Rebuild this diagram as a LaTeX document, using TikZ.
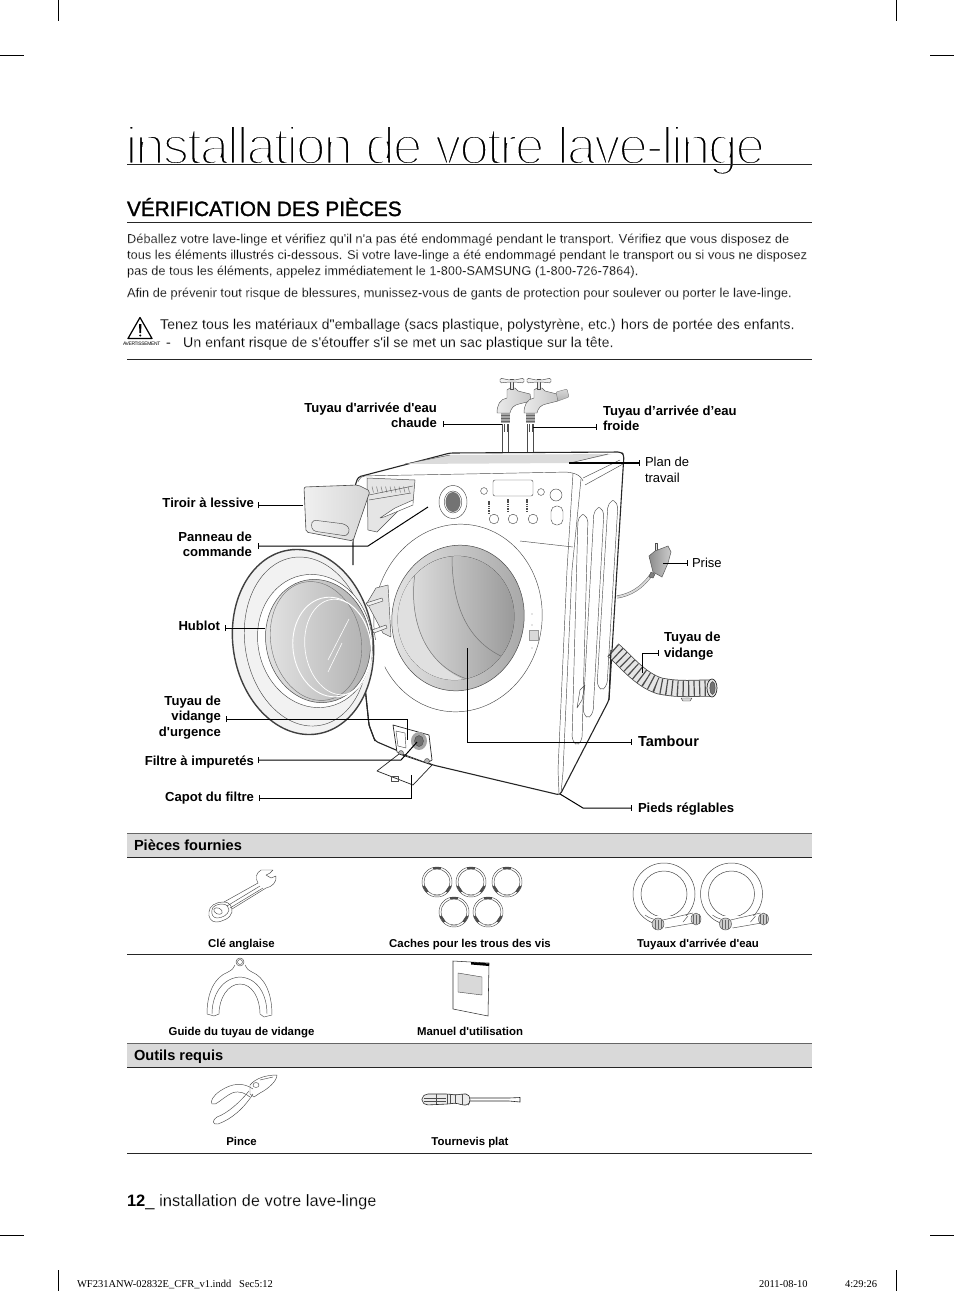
\documentclass[tikz,border=0pt]{standalone}
\usepackage{fontspec}
\usetikzlibrary{arrows.meta,calc}
\newfontfamily\lib{Liberation Sans}
\newfontfamily\libserif{Liberation Serif}
\newcommand{\thintext}[2]{\special{pdf:code 2 Tr 1 1 1 RG #1 w}#2\special{pdf:code 0 Tr 0 0 0 RG 0.4 w}}
\newcommand{\thicktext}[2]{\special{pdf:code 2 Tr 0 0 0 RG #1 w}#2\special{pdf:code 0 Tr 0 0 0 RG 0.4 w}}
\newcommand{\fs}[1]{\fontsize{#1}{#1}\selectfont}
\tikzset{
  every node/.style={inner sep=0pt,outer sep=0pt,font=\lib},
  bodytxt/.style={anchor=base west,font=\lib\fs{12.83}},
  warntxt/.style={anchor=base west,font=\lib\fs{14.25}},
  lab/.style={font=\lib\bfseries\fontsize{13.1}{15.5}\selectfont,align=#1},
  lab/.default=left,
  reg/.style={font=\lib\fontsize{13}{16}\selectfont,align=left},
  captxt/.style={anchor=base,font=\lib\bfseries\fs{11.4}},
  headtxt/.style={anchor=base west,font=\lib\bfseries\fs{14.6}},
  ln/.style={draw=black!85,line width=0.7pt,line join=round},
  fine/.style={draw=black!70,line width=0.45pt,line join=round},
  leader/.style={draw=black,line width=1pt,line join=miter,{Bar[width=6pt,length=0.9pt]}-},
  rulel/.style={draw=black!85,line width=1pt},
  cropm/.style={draw=black,line width=0.5pt},
}
\begin{document}
\begin{tikzpicture}[x=1pt,y=-1pt]
\useasboundingbox (0,0) rectangle (954,1291);
\fill[white] (0,0) rectangle (954,1291);
% crop marks
\foreach \a/\b/\c/\d in {58/0/58/21,896/0/896/21,0/55/24/55,930/55/954/55,0/1235/24/1235,930/1235/954/1235,58/1270/58/1291,896/1270/896/1291}
  \draw[cropm] (\a,\b)--(\c,\d);
% heading block
\node (title) [anchor=base west,font=\lib\fs{53}\addfontfeature{LetterSpace=-3.95}] at (125.5,164) {\thintext{2.7}{installation de votre lave-linge}};
\draw[rulel,line width=0.8pt] (127,164.5)--(812,164.5);
\node (section) [anchor=base west,font=\lib\fs{20.8}] at (127,216) {\thicktext{0.3}{VÉRIFICATION DES PIÈCES}};
\draw[rulel] (127,222.5)--(812,222.5);
\node (b1) [bodytxt] at (127,243) {\thintext{0.1}{Déballez votre lave-linge et vérifiez qu'il n'a pas été endommagé pendant le transport. Vérifiez que vous disposez de}};
\node (b2) [bodytxt] at (127,259) {\thintext{0.1}{tous les éléments illustrés ci-dessous. Si votre lave-linge a été endommagé pendant le transport ou si vous ne disposez}};
\node (b3) [bodytxt] at (127,275) {\thintext{0.1}{pas de tous les éléments, appelez immédiatement le 1-800-SAMSUNG (1-800-726-7864).}};
\node (b4) [bodytxt] at (127,297) {\thintext{0.1}{Afin de prévenir tout risque de blessures, munissez-vous de gants de protection pour soulever ou porter le lave-linge.}};
% warning
\draw[line width=1.2pt,line join=round,fill=white] (140,317.5)--(128,338.5)--(152,338.5)--cycle;
\fill[black] (139,324)--(141.5,324)--(141,333)--(139.5,333)--cycle;
\fill[black] (140.2,335.5) circle (1.1);
\node (avert) [anchor=base west,font=\lib\fs{4.9}\addfontfeature{LetterSpace=-6}] at (123,345) {AVERTISSEMENT};
\node (w1) [warntxt] at (160,329) {\thintext{0.1}{Tenez tous les matériaux d"emballage (sacs plastique, polystyrène, etc.) hors de portée des enfants.}};
\node (w2) [warntxt] at (166,347) {\thintext{0.1}{-}};
\node (w3) [warntxt] at (183,347) {\thintext{0.1}{Un enfant risque de s'étouffer s'il se met un sac plastique sur la tête.}};
\draw[rulel,line width=0.8pt] (127,359.5)--(812,359.5);

% ---- machine body
\draw[ln,line width=1.1pt,fill=white,rounded corners=3pt] (353,565)--(353,543)--(355,486)--(358,477)--(450,453)--(621,452)--(624,455)--(623,470)--(609,700)--(560,795)--(433,765)--(396,750)--(375,741)--(369,725)--(365,687);
% side
\draw[fine] (581,479)--(572,570)--(563,772)--(561,793);
\draw[fine] (573,473)--(567,570)--(558,770)--(559,793);
\foreach \xa/\ya/\xb/\yb in {583/509/577/747,599/502/588/720,613/495/602/692}{
  \draw[fine,rounded corners=5pt] (\xa-5,\ya+8) to[bend left=30] (\xa+5,\ya+8) -- (\xb+5,\yb-6) to[bend left=40] (\xb-5,\yb-6)--cycle;
}
\draw[fine] (585,685)--(582,700)--(577,708)--(580,690)--cycle;
% top
\fill[black!14] (405,464)--(450,455)--(612,454)--(570,463)--cycle;
\draw[fine] (405,464)--(450,455);
\draw[fine] (570,463)--(608,454);
\draw[fine] (583,478)--(620,460);
\draw[fine] (585,485)--(623,464);
% front panel outline
\draw[fine,rounded corners=5pt] (358,482)--(360,476)--(570,472)--(581,476)--(583,481);
\draw[fine] (520,541)--(573,547);
% panel details
\draw[fine,fill=white] (453,502) ellipse (14 and 16.5);
\fill[black!55] (453,502) ellipse (7.5 and 10);
\draw[fine] (453,502) ellipse (8.8 and 11);
\draw[fine,rounded corners=2pt] (493,480) rectangle (533,496);
\draw[fine] (484,491) circle (3.4);
\draw[fine] (541,492) circle (3.4);
\draw[fine] (556,495) circle (6);
\draw[fine,rounded corners=5.5pt] (551,506) rectangle (563,525);
\foreach \x in {494,513,533} \draw[fine] (\x,519) circle (4.8);
\foreach \x/\y in {489/507,508/505,527/505}
  \draw[black!70,line width=2pt,dash pattern=on 1.5pt off 0.8pt] (\x,\y-6)--(\x,\y+6);
% surround
\draw[fine,fill=white] (458,618) [rotate around={-8:(458,618)}] ellipse (84 and 94);
% gasket
\shade[left color=black!10,right color=black!35,draw=black!70,line width=0.5pt] (458,618) [rotate around={-10:(458,618)}] ellipse (66 and 73);
\fill[white!82!black,draw=black!75,line width=0.5pt] (456,618) [rotate around={-10:(456,618)}] ellipse (58 and 62);
\begin{scope}
  \clip (456,618) [rotate around={-10:(456,618)}] ellipse (58 and 62);
  \shade[left color=black!10,right color=black!40] (396,550) rectangle (516,685);
  \draw[black!55,line width=0.5pt] (452,556) .. controls (452,610) and (470,645) .. (510,660);
  \fill[black!12] (395,550)--(415,550) .. controls (405,610) and (420,665) .. (470,682)--(395,690)--cycle;
  \draw[black!55,line width=0.5pt] (418,558) .. controls (405,610) and (420,665) .. (470,680);
\end{scope}
% drum panel buttons
\fill[black!15] (529,630) rectangle (538,640);
\draw[black!40,line width=0.45pt] (529,630) rectangle (538,640);
\foreach \y in {614,625,648} \fill[black!45] (532,\y) circle (0.7);
% drawer
\fill[black!10,draw=black!70,line width=0.5pt] (367,478)--(415,480)--(413,503)--(400,509)--(377,532)--(368,530)--cycle;
\draw[fine,fill=white] (395,508)--(413,500)--(413,505)--(384,517)--(380,518)--cycle;
\foreach \i in {0,...,8}{ \draw[black!50,line width=0.5pt] ($(372,488)+(\i*4.5,-1.5)$)--+(1.5,6); }
\draw[fine] (369,495)--(413,486);
\draw[fine] (369,500)--(411,493);
\shade[left color=black!6,right color=black!16,draw=black!70,line width=0.6pt,rounded corners=2pt] (304,487)--(358,485)--(370,491)--(353,541)--(306,532)--cycle;
\draw[fine,rounded corners=3pt] (313,520)--(345,524)--(350,529)--(347,536)--(313,531)--(311,525)--cycle;
% hoses and faucets
\foreach \x in {502,527}{
  \fill[white] (\x,424) rectangle (\x+6.5,452);
  \draw[fine] (\x,424)--(\x,452);
  \draw[fine] (\x+6.5,424)--(\x+6.5,452);
  \fill[black!35] (\x-1,412) rectangle (\x+8,423);
  \draw[black!60,line width=0.5pt] (\x-1,415)--(\x+8,415) (\x-1,418)--(\x+8,418) (\x-1,421)--(\x+8,421);
  \draw[fine] (\x+2,424)--(\x+2,432) (\x+5,424)--(\x+5,432);
}
\foreach \x/\xs in {512/503,539/530}{
  \shade[left color=black!8,right color=black!22,draw=black!65,line width=0.45pt] (\x-5,398)--(\x-5,390)--(\x-2,388)--(\x+3,388)--(\x+6,391)--(\x+18,394)--(\x+19,401)--(\x+7,404) .. controls (\x+2,405) and (\x-1,408) .. (\x-2,413)--(\xs-6,413) .. controls (\xs-6,405) and (\xs-3,399) .. (\x-5,398)--cycle;
  \draw[fine,fill=black!10] (\x-1.5,379)--(\x+1.5,379)--(\x+1.5,389)--(\x-1.5,389)--cycle;
  \draw[fine,fill=black!6,rounded corners=1.5pt] (\x-12,378)--(\x-3,380)--(\x+3,380)--(\x+12,378)--(\x+12,383)--(\x+3,382)--(\x-3,382)--(\x-12,383)--cycle;
}
\shade[top color=black!15,bottom color=black!30,draw=black!50,line width=0.4pt,rounded corners=1pt] (556,392)--(567,389)--(569,397)--(558,401)--cycle;
% plug
\draw[black!60,line width=3pt] (651,575) .. controls (642,588) and (630,595) .. (617,597);
\draw[white!85!black,line width=2pt] (651,575) .. controls (642,588) and (630,595) .. (617,597);
\draw[fine,fill=black!12] (655,552)--(655,543)--(657,543)--(657,552);
\shade[left color=black!45,right color=black!20,draw=black!65,line width=0.5pt] (649,556)--(655,551)--(668,546)--(671,552)--(668,563)--(662,577)--(653,572)--cycle;
\draw[fine,fill=black!50] (651,572)--(649,577)--(653,578)--(655,574)--cycle;
% drain hose
\draw[black!75,line width=17pt,line cap=butt] (613,650) .. controls (625,660) and (640,680) .. (660,686) .. controls (680,690) and (695,688) .. (711,688);
\draw[white!90!black,line width=15.5pt] (613,650) .. controls (625,660) and (640,680) .. (660,686) .. controls (680,690) and (695,688) .. (711,688);
\draw[black!70,line width=15.5pt,dash pattern=on 1.2pt off 4.3pt] (613,650) .. controls (625,660) and (640,680) .. (660,686) .. controls (680,690) and (695,688) .. (709,688);
\draw[ln,fill=white!90!black] (712,688) ellipse (5 and 9);
\draw[fine,fill=black!55] (712.5,688) ellipse (2.6 and 6.5);
\draw[fine,fill=black!15] (681,698)--(692,698)--(690,701)--(683,701)--cycle;
\draw[ln,line width=1.1pt] (609,700)--(611,650);
% door
\fill[white] (365,687)--(365,640)--(390,640)--(380,690)--cycle;
\draw[ln,line width=1.1pt] (365,687)--(369,725)--(375,741);
\draw[fine,fill=black!12] (376,588)--(388,585)--(391,637)--(383,633)--(367,603)--cycle;
\draw[fine,fill=black!6] (366,603)--(382,598)--(383,601)--(368,606)--cycle;
\draw[fine,fill=black!6] (372,630)--(386,625)--(387,628)--(374,633)--cycle;
\begin{scope}[rotate around={9:(303,642)}]
\draw[black!75,line width=1.4pt,fill=black!5] (303,642) ellipse (70 and 93);
\draw[fine] (306,642) ellipse (61 and 85);
\end{scope}
\draw[fine,fill=white] (315,641) [rotate around={12:(315,641)}] ellipse (57 and 67);
\shade[left color=black!10,right color=black!32,draw=black!70,line width=0.5pt] (318,641) [rotate around={12:(318,641)}] ellipse (52 and 62);
\draw[black!55,line width=0.4pt] (316,641) [rotate around={12:(316,641)}] ellipse (45 and 60);
\draw[white,line width=0.9pt] (332,647) [rotate around={8:(332,647)}] ellipse (39 and 50);
\draw[white,line width=0.7pt] (338,647) [rotate around={8:(338,647)}] ellipse (33 and 48);
\draw[white,line width=0.6pt] (349,619)--(328,660);
\draw[white,line width=0.6pt] (342,643)--(328,672);
% filter
\draw[ln,fill=white] (393,725)--(429,735)--(432,760)--(427,763)--(397,752)--cycle;
\draw[fine,fill=white] (396,731)--(405,733)--(406,748)--(398,746)--cycle;
\fill[black!35] (419,741) ellipse (8 and 9);
\draw[fine,fill=black!55] (419,741) ellipse (4.5 and 5.5);
\draw[fine,fill=black!30] (401,753) circle (2.5);
\draw[fine,fill=black!30] (427,761) circle (2.5);
\draw[ln,fill=white] (377,771)--(399,754)--(432,765)--(413,785)--cycle;
\draw[fine] (391,776) rectangle (398,781);

% leaders
\coordinate (hotT) at (443,424); \coordinate (hotE) at (502,424);
\coordinate (coldT) at (597,427); \coordinate (coldE) at (533,427);
\coordinate (planT) at (640,463); \coordinate (planE) at (569,463);
\coordinate (tirT) at (258,505); \coordinate (tirE) at (303,505);
\coordinate (panT) at (258,546); \coordinate (panB) at (368,546); \coordinate (panE) at (428,507);
\coordinate (priT) at (688,563); \coordinate (priE) at (663,563);
\coordinate (vidT) at (659,653); \coordinate (vidB) at (642,653); \coordinate (vidE) at (642,673);
\coordinate (hubT) at (225,628); \coordinate (hubE) at (265,628);
\coordinate (urgT) at (226,719); \coordinate (urgB) at (407,719); \coordinate (urgE) at (407,740);
\coordinate (filT) at (258,760); \coordinate (filB) at (401,760); \coordinate (filE) at (417,742);
\coordinate (capT) at (259,798); \coordinate (capB) at (411,798); \coordinate (capE) at (411,775);
\coordinate (tamT) at (632,742); \coordinate (tamB) at (467,742); \coordinate (tamE) at (467,648);
\coordinate (piedT) at (632,808); \coordinate (piedB) at (583,808); \coordinate (piedE) at (560,794);
\draw[leader] (hotT)--(hotE);
\draw[leader] (coldT)--(coldE);
\draw[leader,line width=1.3pt] (planT)--(planE);
\draw[leader] (tirT)--(tirE);
\draw[leader] (panT)--(panB)--(panE);
\draw[leader] (priT)--(priE);
\draw[leader] (vidT)--(vidB)--(vidE);
\draw[leader] (hubT)--(hubE);
\draw[leader] (urgT)--(urgB)--(urgE);
\draw[leader] (filT)--(filB)--(filE);
\draw[leader] (capT)--(capB)--(capE);
\draw[leader] (tamT)--(tamB)--(tamE);
\draw[leader] (piedT)--(piedB)--(piedE);
% labels
\node (lhot) [lab=right,anchor=east] at (437,415.5) {Tuyau d'arrivée d'eau\\chaude};
\node (lcold) [lab=left,anchor=west] at (603,418.5) {Tuyau d’arrivée d’eau\\froide};
\node (lplan) [reg,anchor=west] at (645,470) {Plan de\\travail};
\node (ltir) [lab=right,anchor=base east] at (254,507) {Tiroir à lessive};
\node (lpan) [lab=right,anchor=east] at (252,544.5) {Panneau de\\commande};
\node (lpri) [reg,anchor=base west] at (692,567) {Prise};
\node (lvid) [lab=left,anchor=west] at (664,646) {Tuyau de\\vidange};
\node (lhub) [lab=right,anchor=base east] at (220,630) {Hublot};
\node (lurg) [lab=right,anchor=east] at (221,717.5) {Tuyau de\\vidange\\d'urgence};
\node (lfil) [lab=right,anchor=base east] at (254,765) {Filtre à impuretés};
\node (lcap) [lab=right,anchor=base east] at (254,801) {Capot du filtre};
\node (ltam) [anchor=base west,font=\lib\bfseries\fs{14.5}] at (638,746) {Tambour};
\node (lpie) [lab=left,anchor=base west] at (638,812) {Pieds réglables};

% table
\fill[black!15] (127,833.5) rectangle (812,857);
\draw[draw=black!60,line width=0.6pt] (127,833.5)--(812,833.5);
\draw[rulel] (127,857.5)--(812,857.5);
\node (hp) [headtxt] at (134,850) {Pièces fournies};
\draw[rulel] (127,954.5)--(812,954.5);
\fill[black!15] (127,1043.5) rectangle (812,1067);
\draw[draw=black!60,line width=0.6pt] (127,1043.5)--(812,1043.5);
\draw[rulel] (127,1067.5)--(812,1067.5);
\node (ho) [headtxt] at (134,1060) {Outils requis};
\draw[rulel] (127,1153.5)--(812,1153.5);
\node (c1) [captxt] at (241.5,947) {Clé anglaise};
\node (c2) [captxt] at (470,947) {Caches pour les trous des vis};
\node (c3) [captxt] at (698,947) {Tuyaux d'arrivée d'eau};
\node (c4) [captxt] at (241.5,1035) {Guide du tuyau de vidange};
\node (c5) [captxt] at (470,1035) {Manuel d'utilisation};
\node (c6) [captxt] at (241.5,1145) {Pince};
\node (c7) [captxt] at (470,1145) {Tournevis plat};

% wrench
\draw[fine] (209,912) .. controls (209,906) and (216,902) .. (223,902) .. controls (231,902) and (232,907) .. (232,912) .. controls (231,918) and (222,922) .. (216,922) .. controls (211,922) and (208,917) .. (209,912)--cycle;
\draw[fine] (212,910) .. controls (212,906) and (218,904) .. (222,904) .. controls (227,904) and (229,907) .. (229,910) .. controls (228,915) and (222,918) .. (217,918) .. controls (213,918) and (211,914) .. (212,910)--cycle;
\draw[fine,rotate around={-25:(218,911)}] (218,911) ellipse (4.5 and 3);
\draw[fine] (224,902)--(258,883);
\draw[fine] (232,909)--(266,888);
\draw[fine] (227,906)--(260,886) (230,908)--(263,888);
\draw[fine] (258,883) .. controls (255,878) and (256,873) .. (261,870) -- (273,870) -- (270,873) -- (266,875) -- (271,878) -- (276,876) .. controls (277,882) and (272,887) .. (266,888);
% caches
\foreach \x/\y in {437/882,471/882,507/882,454/912,488/912}{
  \draw[draw=black!70,line width=0.45pt] (\x,\y) circle (15);
  \draw[draw=black!70,line width=0.45pt] (\x,\y) circle (13);
  \fill[black!70] (\x-4,\y-15.5) rectangle (\x+4,\y-13);
  \draw[black!70,line width=2.6pt] ($(\x,\y)+(-13.5,4)$)--($(\x,\y)+(-9.5,10)$);
  \draw[black!70,line width=2.6pt] ($(\x,\y)+(13.5,4)$)--($(\x,\y)+(9.5,10)$);
  \fill[black!25] (\x-3,\y+13) rectangle (\x+3,\y+15);
}
% supply hoses
\foreach \x in {664,731.5}{
  \draw[draw=black!70,line width=0.5pt] (\x,894) circle (31);
  \draw[draw=black!70,line width=0.5pt] (\x,894) circle (23);
  \fill[white] (\x-12,916) rectangle (\x+24,930);
  \draw[fine] (\x-19,915) .. controls (\x-14,919) and (\x-8,920) .. (\x-3,920);
  \draw[fine] (\x+24,916) -- (\x+19,922);
  \draw[fine] (\x-1,920)--(\x+29,913) (\x+1,928)--(\x+30,923);
  \draw[fine,fill=black!20] (\x-6,924) ellipse (6 and 6);
  \draw[fine,fill=black!20] (\x+32,919) ellipse (5 and 6);
  \foreach \d in {-3,0,3}{
    \draw[black!60,line width=0.4pt] (\x-6+\d,919.5)--(\x-6+\d,928.5);
    \draw[black!60,line width=0.4pt] (\x+32+\d,914.5)--(\x+32+\d,923.5);
  }
}
% guide
\draw[fine] (240,962) circle (4);
\draw[fine] (240,962) circle (2.5);
\draw[fine] (235,965) .. controls (234,968) and (232,970) .. (228,972) .. controls (215,977) and (207,992) .. (207,1014)--(214,1016)--(219,1014) .. controls (219,998) and (228,984) .. (240,984) .. controls (252,984) and (260,998) .. (260,1014)--(264,1017)--(272,1015) .. controls (272,992) and (264,977) .. (252,972) .. controls (248,970) and (246,968) .. (245,965);
\draw[fine] (212,1014) .. controls (212,995) and (222,978) .. (240,977) .. controls (258,978) and (267,995) .. (267,1014);
% manual
\draw[draw=black!80,line width=0.55pt,fill=white] (453,961)--(489,963)--(488,1016)--(453,1009)--cycle;
\fill[black] (471,962)--(489,963.5)--(489,966)--(471,964.5)--cycle;
\draw[fine,fill=black!15] (458,973)--(482,977)--(482,995)--(458,992)--cycle;
% pliers
\draw[fine] (253,1089) .. controls (243,1082) and (232,1083) .. (220,1091) .. controls (213,1096) and (210,1101) .. (212,1104) .. controls (216,1106) and (222,1098) .. (232,1093) .. controls (240,1090) and (246,1094) .. (250,1097);
\draw[fine] (253,1094) .. controls (244,1108) and (232,1119) .. (218,1124) .. controls (212,1125) and (212,1120) .. (217,1117) .. controls (228,1113) and (240,1102) .. (249,1091);
\draw[fine] (250,1085) .. controls (256,1078) and (266,1075) .. (277,1075) .. controls (277,1081) and (268,1089) .. (260,1093)--(254,1097)--(250,1094) --cycle;
\draw[fine] (256,1085) ellipse (3 and 2.5);
\draw[fine] (260,1080) -- (273,1077);
% screwdriver
\draw[draw=black!85,line width=0.6pt] (470,1098)--(509,1098)--(520,1097.5)--(520,1102)--(509,1101)--(470,1101);
\draw[draw=black!85,line width=0.6pt,rounded corners=2pt,fill=black!8] (426,1094)--(448,1094)--(456,1095)--(462,1094)--(468,1094)--(470,1098)--(470,1102)--(468,1105)--(462,1105)--(456,1103)--(448,1104)--(426,1105)--(422,1102)--(422,1097)--cycle;
\draw[fine] (436,1094)--(436,1104) (447,1094)--(447,1104) (450,1094)--(450,1104) (455,1095)--(455,1103) (462,1094)--(462,1105);
\draw[fine] (424,1098)--(446,1098) (424,1101)--(446,1101);
% footer
\node (foot) [anchor=base west,font=\lib\fs{16.5}] at (127,1206) {\textbf{12}\_ \thintext{0.1}{installation de votre lave-linge}};
\node (f1) [anchor=base west,font=\libserif\fs{10.5}] at (77,1287) {WF231ANW-02832E\_CFR\_v1.indd\ \ \ Sec5:12};
\node (f2) [anchor=base west,font=\libserif\fs{10.5}] at (759,1287) {2011-08-10};
\node (f3) [anchor=base west,font=\libserif\fs{10.5}] at (845,1287) {4:29:26};
\end{tikzpicture}
\end{document}
